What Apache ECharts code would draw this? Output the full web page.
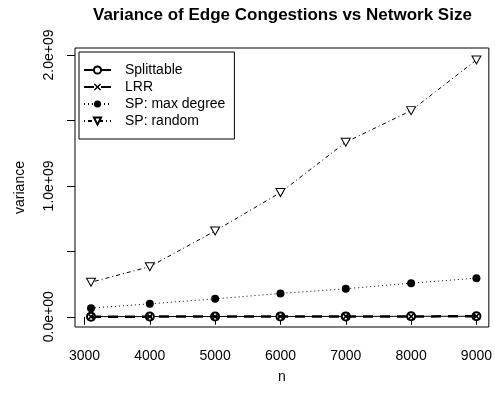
<!DOCTYPE html>
<html>
<head>
<meta charset="utf-8">
<script src="https://cdn.jsdelivr.net/npm/echarts@6/dist/echarts.min.js"></script>
<style>
  html, body { margin: 0; padding: 0; background: #fff; }
  #variance_chart { width: 495px; height: 395px; }
</style>
</head>
<body>
<div id="variance_chart"></div>
<script>
// network sizes (x)
var sizes = [3100, 4000, 5000, 6000, 7000, 8000, 9000];

// variance per method (y)
var splittable = [1.2e6, 1.6e6, 2.1e6, 2.7e6, 3.0e6, 3.6e6, 4.1e6];
var lrr = [0.9e6, 1.3e6, 1.7e6, 2.2e6, 2.6e6, 3.1e6, 3.3e6];
var spMaxDegree = [0.066e9, 0.099e9, 0.137e9, 0.178e9, 0.214e9, 0.257e9, 0.295e9];
var spRandom = [0.264e9, 0.383e9, 0.656e9, 0.949e9, 1.334e9, 1.575e9, 1.962e9];

// axis ticks and labels
var xTicks = [3000, 4000, 5000, 6000, 7000, 8000, 9000];
var yTicks = [0, 0.5e9, 1e9, 1.5e9, 2e9];
var yLabelValues = [0, 1e9, 2e9];
var yLabels = ['0.0e+00', '1.0e+09', '2.0e+09'];

var FONT = '"Liberation Sans", Arial, Helvetica, sans-serif';

function pairs(ys) {
	return sizes.map(function (x, i) { return [x, ys[i]]; });
}

function drawChart() {
	var chart = echarts.init(document.getElementById('variance_chart'), null, {renderer: 'canvas'});

	var xShape = 'path://M0,1.4 L1.4,0 L5,3.6 L8.6,0 L10,1.4 L6.4,5 L10,8.6 L8.6,10 L5,6.4 L1.4,10 L0,8.6 L3.6,5 Z';
	var triDown = 'path://M0,0 L10,0 L5,8.66 Z';

	var option = {
		animation: false,
		backgroundColor: '#fff',
		textStyle: { fontFamily: FONT, color: '#000' },
		title: {
			text: 'Variance of Edge Congestions vs Network Size',
			left: 93,
			top: 7,
			padding: 0,
			textStyle: { fontFamily: FONT, fontSize: 17, fontWeight: 'bold', color: '#000' }
		},
		legend: {
			orient: 'vertical',
			left: 79,
			top: 52,
			padding: [11, 9, 11, 4],
			itemWidth: 27,
			itemHeight: 9,
			itemGap: 3,
			borderColor: '#000',
			borderWidth: 1,
			backgroundColor: '#fff',
			textStyle: { fontFamily: FONT, fontSize: 14, color: '#000', padding: [0, 0, 0, 9] },
			data: ['Splittable', 'LRR', 'SP: max degree', 'SP: random']
		},
		grid: {
			show: true,
			left: 75,
			right: 4,
			top: 48,
			bottom: 68,
			borderColor: '#000',
			borderWidth: 1,
			backgroundColor: 'transparent'
		},
		xAxis: {
			type: 'value',
			min: 2855,
			max: 9190,
			name: 'n',
			nameLocation: 'middle',
			nameGap: 43,
			nameTextStyle: { fontFamily: FONT, fontSize: 14, color: '#000' },
			axisLine: { show: false },
			splitLine: { show: false },
			axisTick: {
				show: true,
				inside: false,
				length: 8,
				customValues: xTicks,
				lineStyle: { color: '#000', width: 1 }
			},
			axisLabel: {
				customValues: xTicks,
				margin: 22,
				fontFamily: FONT,
				fontSize: 14,
				color: '#000',
				formatter: function (v) { return String(v); }
			}
		},
		yAxis: {
			type: 'value',
			min: -0.078e9,
			max: 2.0535e9,
			name: 'variance',
			nameLocation: 'middle',
			nameGap: 48,
			nameTextStyle: { fontFamily: FONT, fontSize: 14, color: '#000' },
			axisLine: { show: false },
			splitLine: { show: false },
			axisTick: {
				show: true,
				inside: false,
				length: 8,
				customValues: yTicks,
				lineStyle: { color: '#000', width: 1 }
			},
			axisLabel: {
				customValues: yLabelValues,
				rotate: 90,
				margin: 19,
				fontFamily: FONT,
				fontSize: 14,
				color: '#000',
				formatter: function (v) {
					var i = yLabelValues.indexOf(v);
					return i >= 0 ? yLabels[i] : '';
				}
			}
		},
		series: [
			{
				name: 'Splittable',
				type: 'line',
				data: pairs(splittable),
				symbol: 'emptyCircle',
				symbolSize: 8,
				itemStyle: { color: '#000', borderWidth: 1 },
				lineStyle: { color: '#000', width: 1, type: 'solid' },
				z: 2
			},
			{
				name: 'LRR',
				type: 'line',
				data: pairs(lrr),
				symbol: xShape,
				symbolSize: 8,
				itemStyle: { color: '#000' },
				lineStyle: { color: '#000', width: 2.5, type: [10, 7] },
				z: 3
			},
			{
				name: 'SP: max degree',
				type: 'line',
				data: pairs(spMaxDegree),
				symbol: 'circle',
				symbolSize: 8,
				itemStyle: { color: '#000' },
				lineStyle: { color: '#000', width: 1, type: [1, 3] },
				z: 4
			},
			{
				name: 'SP: random',
				type: 'line',
				data: pairs(spRandom),
				symbol: triDown,
				symbolSize: [9, 8],
				itemStyle: { color: '#fff', borderColor: '#000', borderWidth: 1 },
				lineStyle: { color: '#000', width: 1, type: [1, 3, 4, 3] },
				z: 5
			}
		]
	};
	chart.setOption(option);
}

drawChart();
</script>
</body>
</html>
